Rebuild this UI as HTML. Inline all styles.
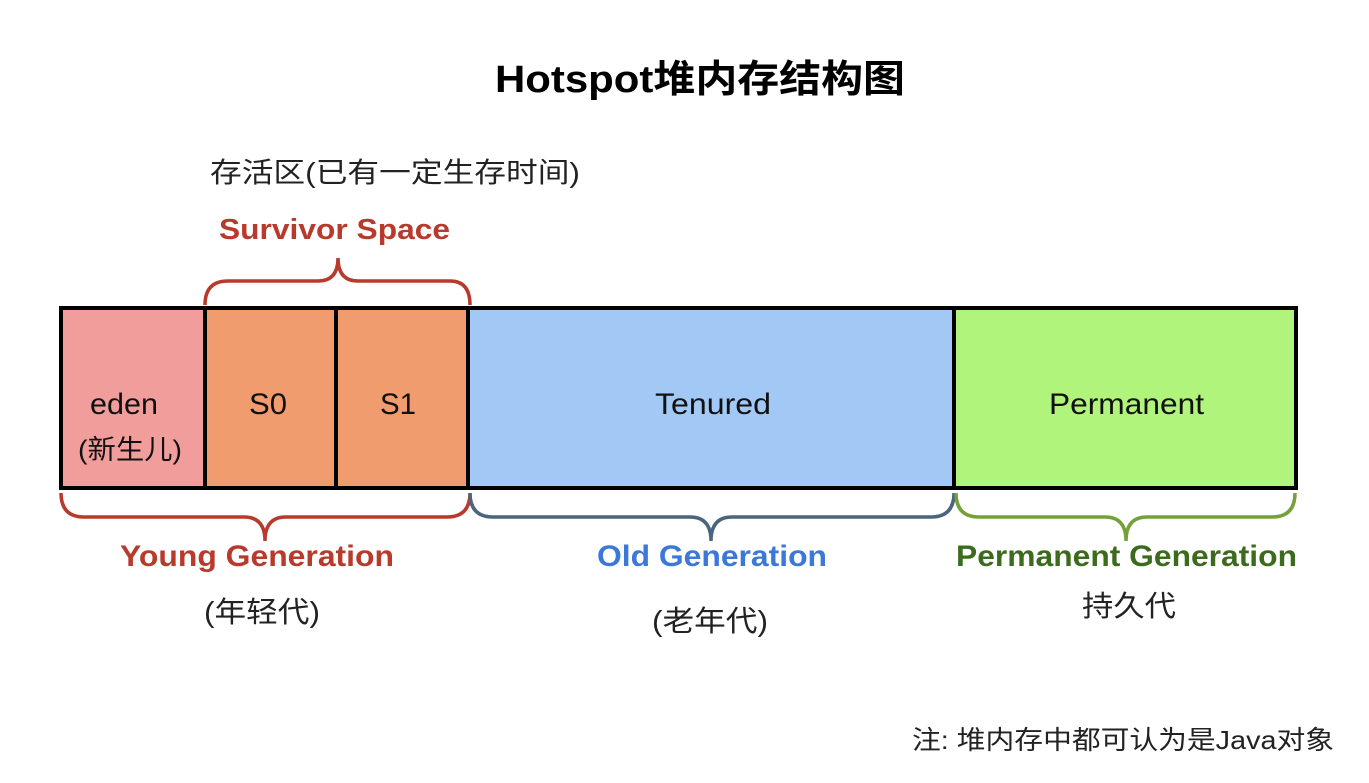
<!DOCTYPE html>
<html><head><meta charset="utf-8"><style>
body{margin:0;background:#fff;}
svg{display:block}
text{font-family:"Liberation Sans","Noto Sans CJK SC",sans-serif;}
</style></head><body>
<svg width="1369" height="783" viewBox="0 0 1369 783" xmlns="http://www.w3.org/2000/svg">
<text x="495" y="92" font-size="38" font-weight="bold" fill="#000" textLength="410" lengthAdjust="spacingAndGlyphs">Hotspot堆内存结构图</text>
<text x="210" y="182" font-size="28" fill="#222" textLength="370" lengthAdjust="spacingAndGlyphs">存活区(已有一定生存时间)</text>
<text x="219" y="239" font-size="29" font-weight="bold" fill="#b83a2c" textLength="231" lengthAdjust="spacingAndGlyphs">Survivor Space</text>
<rect x="61" y="308" width="144" height="180" fill="#f09d9b"/>
<rect x="205" y="308" width="263" height="180" fill="#f09c6e"/>
<rect x="468" y="308" width="486" height="180" fill="#a2c9f5"/>
<rect x="954" y="308" width="342" height="180" fill="#b1f47c"/>
<rect x="61" y="308" width="1235" height="180" fill="none" stroke="#000" stroke-width="4"/>
<g stroke="#000" stroke-width="4">
<line x1="205" y1="308" x2="205" y2="488"/><line x1="336" y1="308" x2="336" y2="488"/>
<line x1="468" y1="308" x2="468" y2="488"/><line x1="954" y1="308" x2="954" y2="488"/>
</g>
<g font-size="30" fill="#111">
<text x="90" y="414" textLength="68" lengthAdjust="spacingAndGlyphs">eden</text>
<text x="78" y="459" font-size="27" textLength="104" lengthAdjust="spacingAndGlyphs">(新生儿)</text>
<text x="249" y="414" textLength="38" lengthAdjust="spacingAndGlyphs">S0</text>
<text x="380" y="414" textLength="36" lengthAdjust="spacingAndGlyphs">S1</text>
<text x="655" y="414" textLength="116" lengthAdjust="spacingAndGlyphs">Tenured</text>
<text x="1049" y="414" textLength="155" lengthAdjust="spacingAndGlyphs">Permanent</text>
</g>
<g fill="none" stroke-width="3.5">
<path d="M205 305 Q205 281 228 281 L318 281 Q338 281 338 258 Q338 281 358 281 L450 281 Q470 281 470 305" stroke="#b83a2c"/>
<path d="M61 493 Q61 517 84 517 L244 517 Q265 517 265 541 Q265 517 286 517 L447 517 Q470 517 470 493" stroke="#b83a2c"/>
<path d="M470 493 Q470 517 493 517 L690 517 Q711 517 711 541 Q711 517 732 517 L931 517 Q954 517 954 493" stroke="#4a657e"/>
<path d="M956 493 Q956 517 979 517 L1105 517 Q1126 517 1126 541 Q1126 517 1147 517 L1272 517 Q1295 517 1295 493" stroke="#76a03a"/>
</g>
<g font-size="30" font-weight="bold">
<text x="120" y="566" fill="#b83a2c" textLength="274" lengthAdjust="spacingAndGlyphs">Young Generation</text>
<text x="597" y="566" fill="#3b78d8" textLength="230" lengthAdjust="spacingAndGlyphs">Old Generation</text>
<text x="956" y="566" fill="#3d6b1e" textLength="341" lengthAdjust="spacingAndGlyphs">Permanent Generation</text>
</g>
<g font-size="29" fill="#222">
<text x="204" y="622" textLength="116" lengthAdjust="spacingAndGlyphs">(年轻代)</text>
<text x="652" y="631" textLength="116" lengthAdjust="spacingAndGlyphs">(老年代)</text>
<text x="1082" y="616" textLength="94" lengthAdjust="spacingAndGlyphs">持久代</text>
</g>
<text x="912" y="749" font-size="26" fill="#222" textLength="422" lengthAdjust="spacingAndGlyphs">注: 堆内存中都可认为是Java对象</text>
</svg>
</body></html>
